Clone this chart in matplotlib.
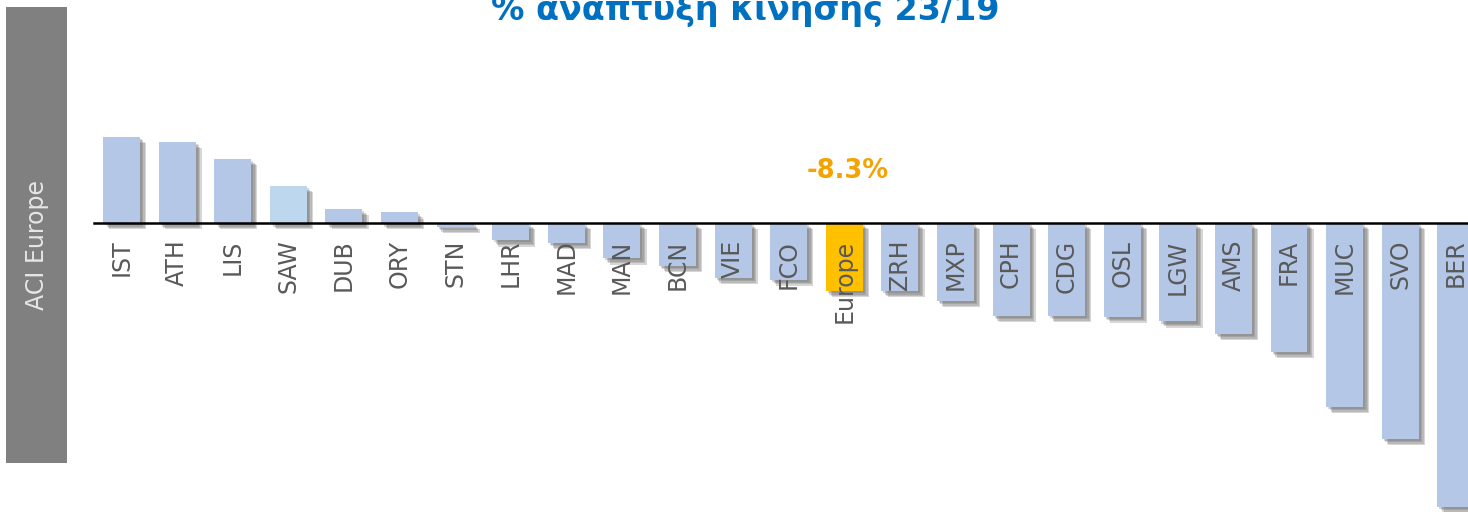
import matplotlib.pyplot as plt
from matplotlib.patches import Rectangle
import matplotlib.patheffects as pe

airports = ["IST", "ATH", "LIS", "SAW", "DUB", "ORY", "STN", "LHR", "MAD", "MAN",
            "BCN", "VIE", "FCO", "Europe", "ZRH", "MXP", "CPH", "CDG", "OSL", "LGW",
            "AMS", "FRA", "MUC", "SVO", "BER"]
growth = [10.5, 9.9, 7.8, 4.5, 1.7, 1.3, -0.45, -2.1, -2.4, -4.3,
          -5.2, -6.7, -6.9, -8.3, -8.3, -9.5, -11.3, -11.3, -11.4, -12.0,
          -13.5, -15.7, -22.4, -26.3, -34.6]
title = "% ανάπτυξη κίνησης 23/19"
side_label = "ACI Europe"

bar_color = "#B4C7E7"
colors = []
for a in airports:
    if a == "Europe":
        colors.append("#FFC000")
    elif a == "SAW":
        colors.append("#BDD7EE")
    else:
        colors.append(bar_color)

fig = plt.figure(figsize=(14.68, 5.12), dpi=100)
ax = fig.add_axes([94 / 1468, 0, 1 - 94 / 1468, 1])

x = list(range(len(airports)))
bars = ax.bar(x, growth, width=0.665, color=colors, zorder=1)
# soft drop shadow, a few stacked offsets
shadow = [pe.SimplePatchShadow(offset=(o, -o), shadow_rgbFace="#6e6e6e", alpha=0.28)
          for o in (1.5, 2.5, 3.5, 4.5)]
for b in bars:
    b.set_path_effects(shadow + [pe.Normal()])

ax.set_xlim(-0.495, 24.22)
ax.set_ylim(-35.24, 27.2)

ax.spines[["top", "right", "left"]].set_visible(False)
ax.spines["bottom"].set_position(("data", 0))
ax.spines["bottom"].set_linewidth(1.8)
ax.spines["bottom"].set_zorder(3)
ax.set_yticks([])
ax.set_xticks(x)
ax.set_xticklabels(airports, rotation=90, fontsize=17, color="#595959")
ax.tick_params(axis="x", length=0, pad=12)
ax.xaxis.set_zorder(5)

# headline value for Europe
idx = airports.index("Europe")
ax.text(idx + 0.07, 6.3, f"{growth[idx]:.1f}%", ha="center", va="center",
        fontsize=18.5, fontweight="bold", color="#F5A300")

fig.text(745 / 1468, (512 - 20) / 512, title, ha="center", va="baseline",
         fontsize=24, fontweight="bold", color="#0070C0")

fig.patches.append(Rectangle((6 / 1468, (512 - 463) / 512), 61 / 1468, 456 / 512,
                             transform=fig.transFigure, facecolor="#808080",
                             edgecolor="none", zorder=0))
fig.text(37 / 1468, (512 - 245) / 512, side_label, rotation=90, ha="center", va="center",
         fontsize=17, color="#E6E6E6")

fig.savefig("out.png", dpi=100)
